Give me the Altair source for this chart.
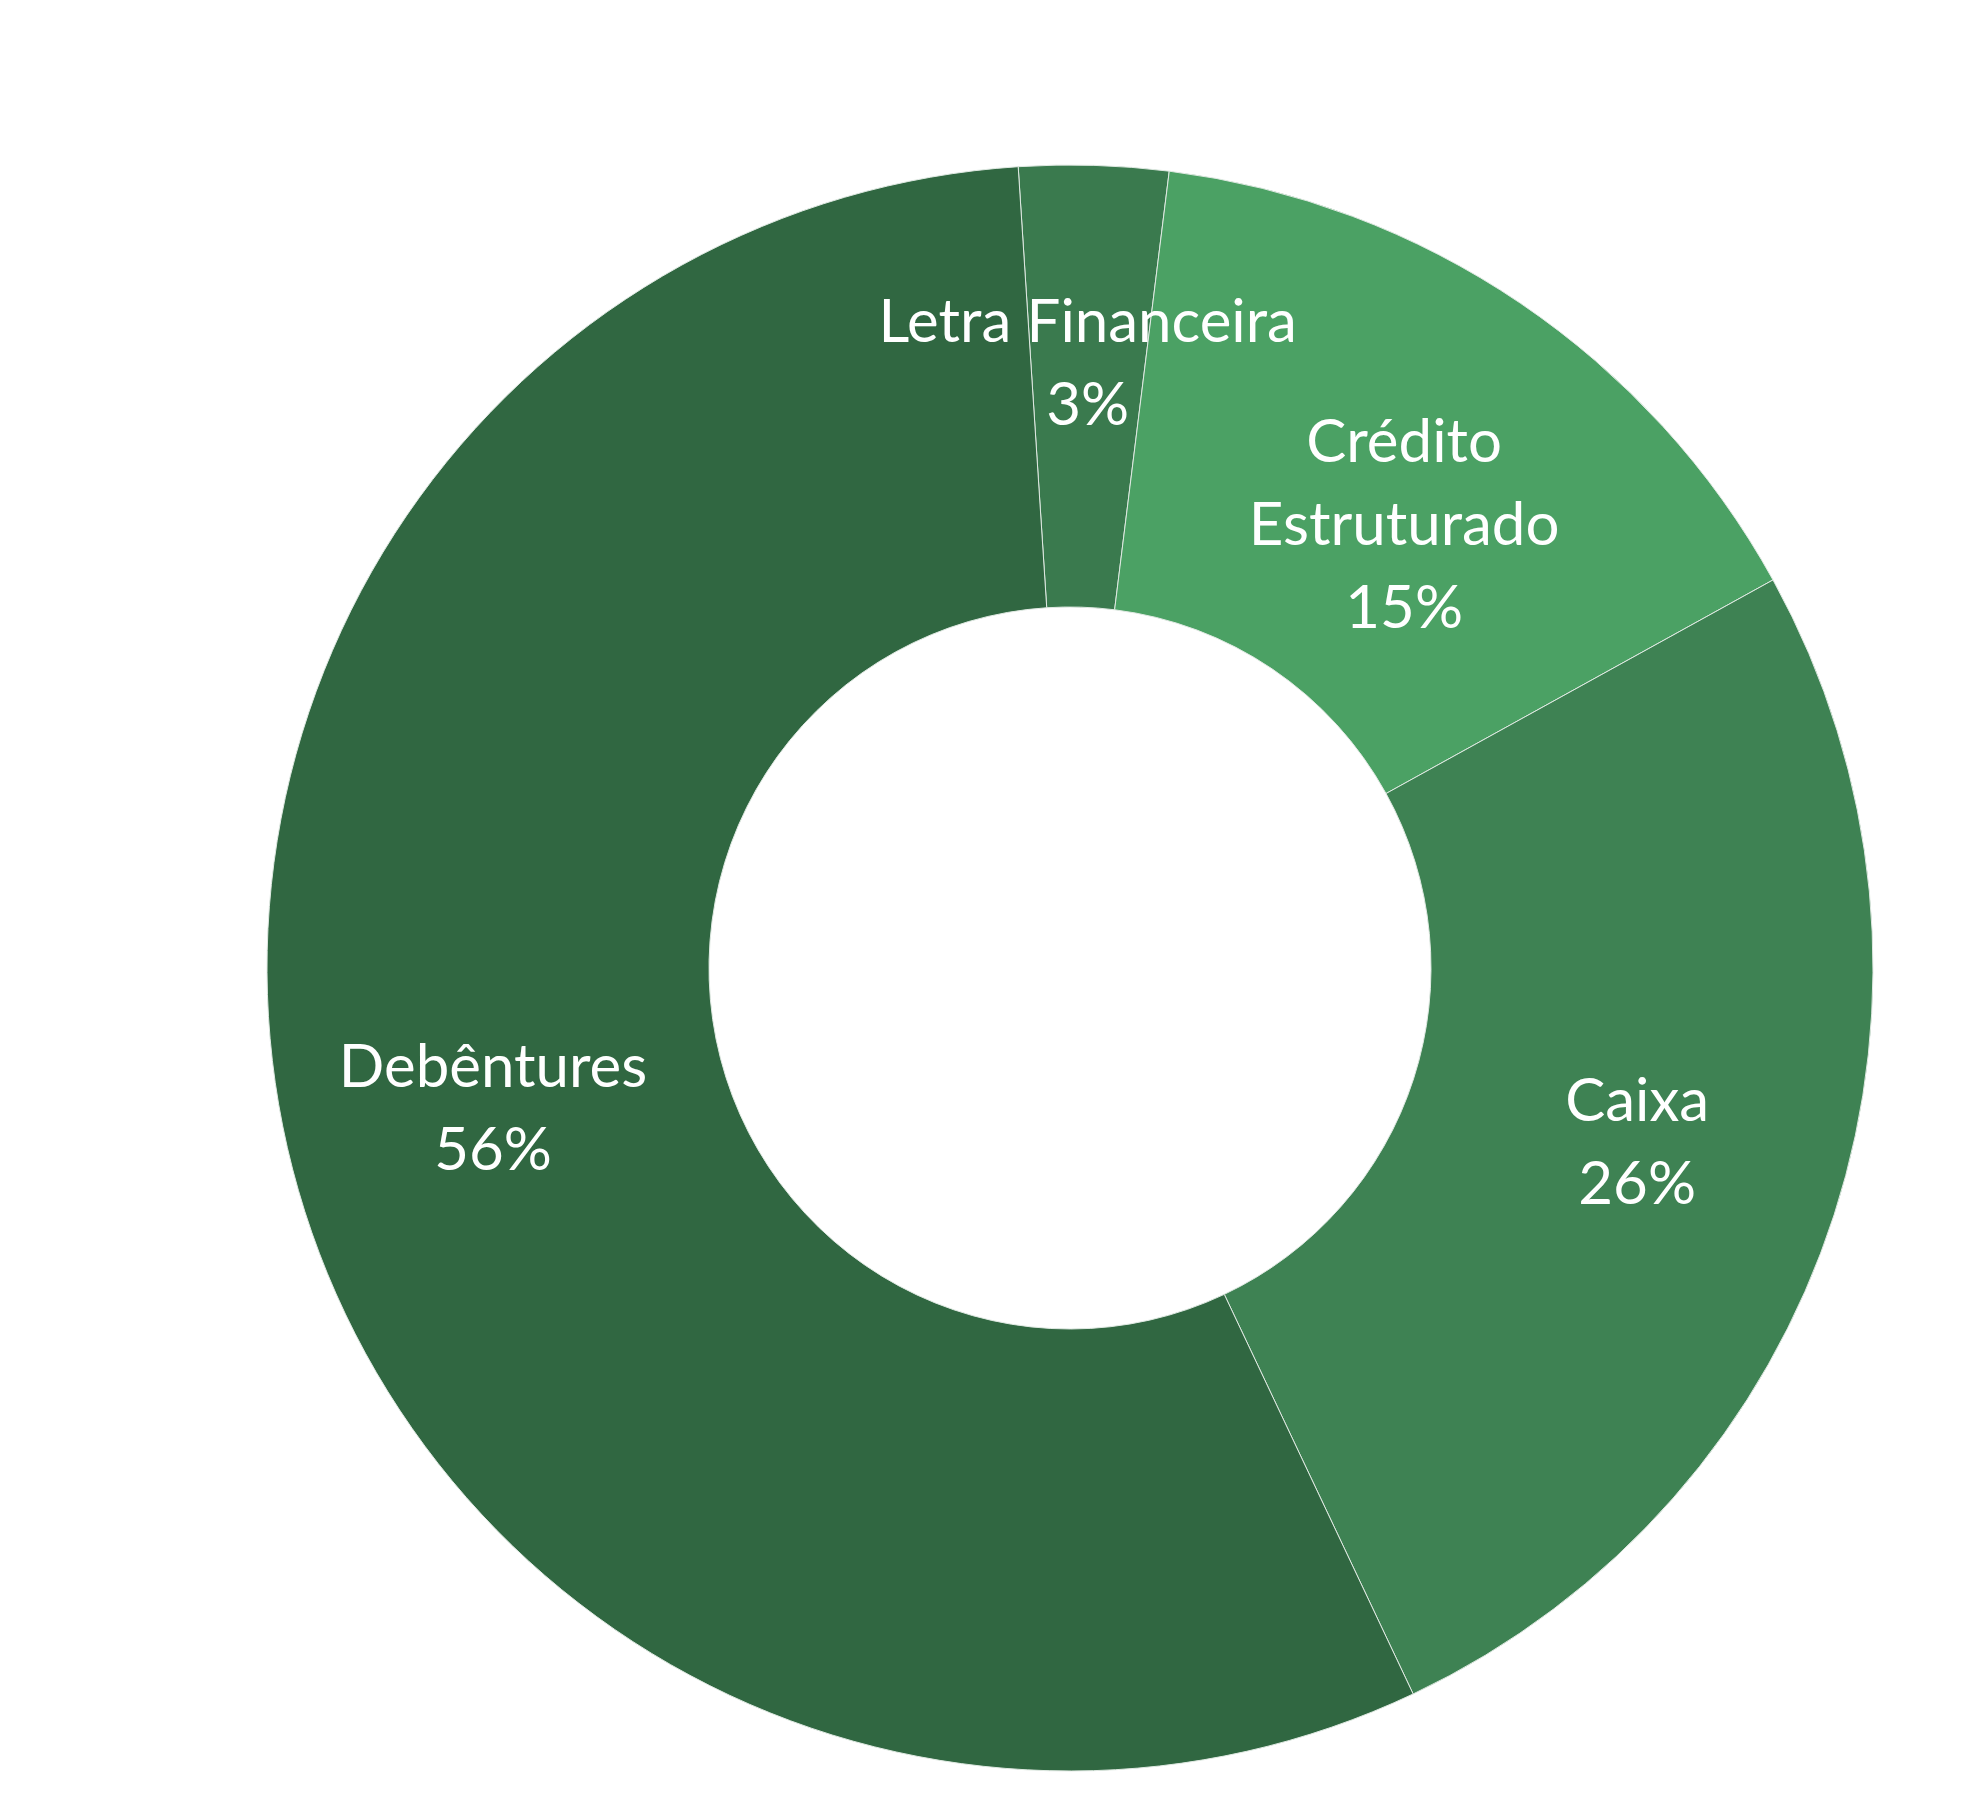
import math
import altair as alt
import pandas as pd

categories = ["Letra Financeira", "Crédito Estruturado", "Caixa", "Debêntures"]
labels = ["Letra Financeira\n3%", "Crédito\nEstruturado\n15%", "Caixa\n26%", "Debêntures\n56%"]
values = [3, 15, 26, 56]
colors = ["#3a7a4e", "#4ba164", "#3e8253", "#306741"]

df = pd.DataFrame({
    "categoria": categories,
    "rotulo": labels,
    "valor": values,
    "ordem": list(range(len(categories))),
})

start = -3.7 * math.pi / 180
theta_scale = alt.Scale(range=[start, start + 2 * math.pi])
cx, cy = 1062, 960

base = alt.Chart(df).encode(
    theta=alt.Theta("valor:Q", stack=True, scale=theta_scale),
    order=alt.Order("ordem:O"),
)

arcs = base.mark_arc(outerRadius=803, innerRadius=361, stroke="#dfe9e2", strokeWidth=1).encode(
    color=alt.Color("categoria:N", scale=alt.Scale(domain=categories, range=colors), legend=None),
    x=alt.value(cx),
    y=alt.value(cy),
)

text_props = dict(font="Lato", fontSize=60, color="white", lineBreak="\n", lineHeight=83,
                  align="center", baseline="middle")

text2 = base.transform_calculate(
    t="indexof(datum.rotulo, '\\n') == lastindexof(datum.rotulo, '\\n') ? datum.rotulo : ''"
).mark_text(dy=-48, **text_props).encode(
    text="t:N",
    radius=alt.value(596),
    x=alt.value(cx),
    y=alt.value(cy),
)

text3 = base.transform_calculate(
    t="indexof(datum.rotulo, '\\n') != lastindexof(datum.rotulo, '\\n') ? datum.rotulo : ''"
).mark_text(dy=-30, **text_props).encode(
    text="t:N",
    radius=alt.value(596),
    x=alt.value(cx),
    y=alt.value(cy),
)

chart = alt.layer(arcs, text2, text3).properties(
    width=1956, height=1800, padding=0, autosize=alt.AutoSizeParams(type="none"),
    background="white",
).configure_view(stroke=None)

chart.save("out.html", embed_options={"renderer": "svg", "actions": False})
